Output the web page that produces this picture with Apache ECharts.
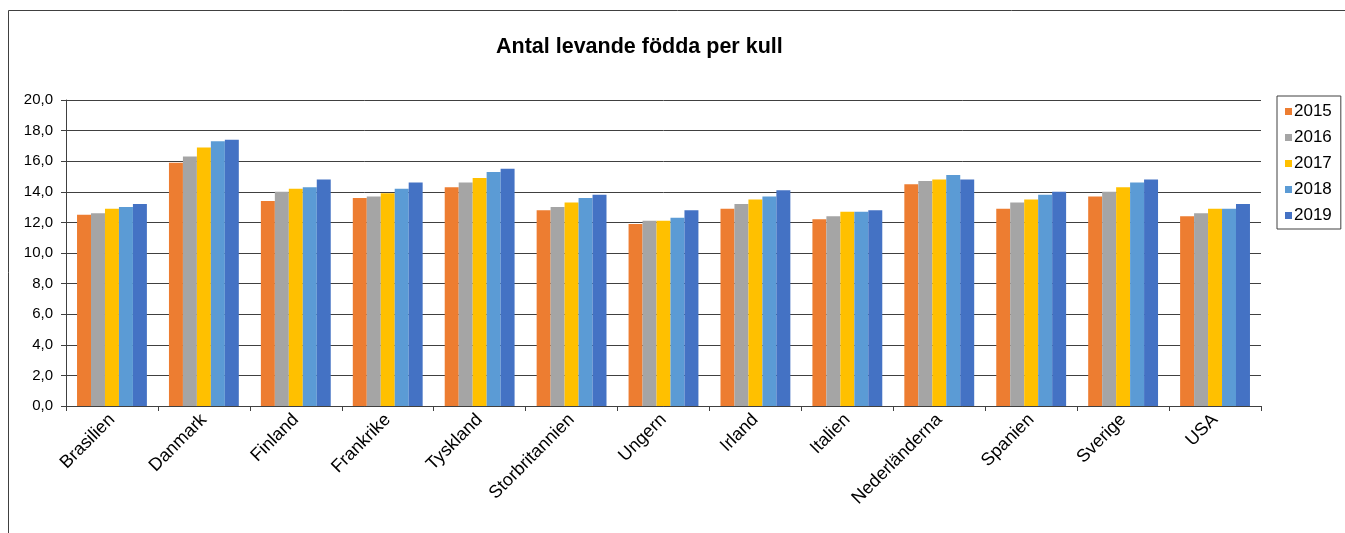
<!DOCTYPE html>
<html>
<head>
<meta charset="utf-8">
<title>Antal levande födda per kull</title>
<script src="https://cdn.jsdelivr.net/npm/echarts@6/dist/echarts.min.js"></script>
<style>
  html, body { margin: 0; padding: 0; background: #fff; }
  #main { width: 1345px; height: 533px; }
</style>
</head>
<body>
<div id="main"></div>
<script>
// länder (kategorier)
var countries = ['Brasilien', 'Danmark', 'Finland', 'Frankrike', 'Tyskland', 'Storbritannien',
  'Ungern', 'Irland', 'Italien', 'Nederländerna', 'Spanien', 'Sverige', 'USA'];
var years = ['2015', '2016', '2017', '2018', '2019'];
var colors = ['#ED7D31', '#A5A5A5', '#FFC000', '#5B9BD5', '#4472C4'];

// värden per år
var v2015 = [12.5, 15.9, 13.4, 13.6, 14.3, 12.8, 11.9, 12.9, 12.2, 14.5, 12.9, 13.7, 12.4];
var v2016 = [12.6, 16.3, 14.0, 13.7, 14.6, 13.0, 12.1, 13.2, 12.4, 14.7, 13.3, 14.0, 12.6];
var v2017 = [12.9, 16.9, 14.2, 13.9, 14.9, 13.3, 12.1, 13.5, 12.7, 14.8, 13.5, 14.3, 12.9];
var v2018 = [13.0, 17.3, 14.3, 14.2, 15.3, 13.6, 12.3, 13.7, 12.7, 15.1, 13.8, 14.6, 12.9];
var v2019 = [13.2, 17.4, 14.8, 14.6, 15.5, 13.8, 12.8, 14.1, 12.8, 14.8, 14.0, 14.8, 13.2];
var values = [v2015, v2016, v2017, v2018, v2019];

var chart = echarts.init(document.getElementById('main'));

var series = [];
for (var i = 0; i < years.length; i++) {
  series.push({
    name: years[i],
    type: 'bar',
    data: values[i],
    barGap: '0%',
    barCategoryGap: '24%',
    itemStyle: { color: colors[i] }
  });
}

var option = {
  animation: false,
  backgroundColor: '#fff',
  color: colors,
  //ram runt diagrammet
  graphic: [{
    type: 'rect',
    shape: { x: 8.5, y: 10.5, width: 1345, height: 540 },
    style: { fill: null, stroke: '#404040', lineWidth: 1 },
    silent: true
  }],
  title: {
    text: 'Antal levande födda per kull',
    left: 491,
    top: 31,
    textStyle: { fontFamily: 'Liberation Sans, Arial', fontSize: 21.5, fontWeight: 'bold', color: '#000' }
  },
  legend: {
    orient: 'vertical',
    left: 1277,
    top: 96,
    itemWidth: 7,
    itemHeight: 7,
    itemGap: 9,
    padding: [7, 9, 5, 8],
    borderColor: '#404040',
    borderWidth: 1,
    icon: 'rect',
    textStyle: { fontFamily: 'Liberation Sans, Arial', fontSize: 17, color: '#000', padding: [0, 0, 0, -3] },
    data: years
  },
  grid: {
    left: 66,
    right: 84,
    top: 100,
    bottom: 127,
    containLabel: false
  },
  xAxis: {
    type: 'category',
    data: countries,
    axisLine: { lineStyle: { color: '#404040' } },
    axisTick: { show: true, length: 5, alignWithLabel: false, lineStyle: { color: '#404040' } },
    axisLabel: {
      rotate: 45,
      interval: 0,
      margin: 11,
      fontFamily: 'Liberation Sans, Arial',
      fontSize: 18,
      color: '#000'
    }
  },
  yAxis: {
    type: 'value',
    min: 0,
    max: 20,
    interval: 2,
    axisLine: { show: true, lineStyle: { color: '#404040' } },
    axisTick: { show: true, inside: false, length: 5, lineStyle: { color: '#404040' } },
    splitLine: { lineStyle: { color: '#404040', width: 1 } },
    axisLabel: {
      margin: 13,
      fontFamily: 'Liberation Sans, Arial',
      fontSize: 15,
      color: '#000',
      formatter: function (v) { return v.toFixed(1).replace('.', ','); }
    }
  },
  series: series
};

chart.setOption(option);
</script>
</body>
</html>
